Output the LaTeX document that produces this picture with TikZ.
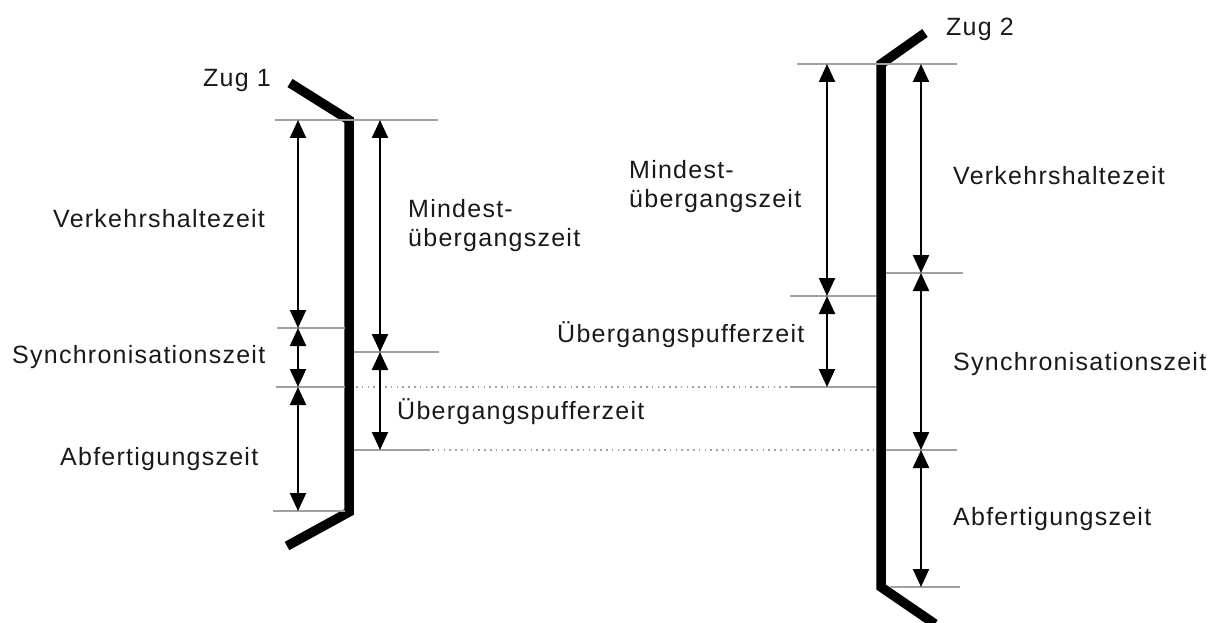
\documentclass[tikz,border=0pt]{standalone}
\usepackage{fontspec}
\setmainfont{Liberation Sans}[LetterSpace=5]
\usetikzlibrary{arrows.meta}
\definecolor{guide}{HTML}{A0A0A0}
\begin{document}
\begin{tikzpicture}[x=1pt,y=-1pt,
  train/.style={line width=9.5pt,line join=miter},
  guideline/.style={draw=guide,line width=1.2pt},
  dotline/.style={draw=guide,line width=1.6pt,dash pattern=on 1.6pt off 4.2pt},
  dim/.style={line width=2.2pt,{Triangle[length=18pt,width=16pt]}-{Triangle[length=18pt,width=16pt]}},
  lbl/.style={anchor=base west,inner sep=0pt,font=\fontsize{25}{32}\selectfont,text=black!90}]
\useasboundingbox (0,0) rectangle (1215,623);
% train 1
\coordinate (t1a) at (290,83);
\coordinate (t1b) at (349,120);
\coordinate (t1c) at (349,512);
\coordinate (t1d) at (287,546);
\draw[train] (t1a) -- (t1b) -- (t1c) -- (t1d);
% train 2
\coordinate (t2a) at (925,33);
\coordinate (t2b) at (881,64);
\coordinate (t2c) at (881,587);
\coordinate (t2d) at (935,624);
\draw[train] (t2a) -- (t2b) -- (t2c) -- (t2d);
% guide lines train 1
\draw[guideline] (275,120) -- (438,120);
\draw[guideline] (277,328) -- (345,328);
\draw[guideline] (354,352) -- (439,352);
\draw[guideline] (276,387) -- (345,387);
\draw[guideline] (354,450) -- (430,450);
\draw[guideline] (273,511) -- (345,511);
% dotted connections
\draw[dotline] (356,387) -- (789,387);
\draw[dotline] (432,450) -- (876,450);
% guide lines train 2
\draw[guideline] (797,64) -- (957,64);
\draw[guideline] (886,273) -- (963,273);
\draw[guideline] (790,296) -- (876,296);
\draw[guideline] (790,387) -- (876,387);
\draw[guideline] (886,450) -- (957,450);
\draw[guideline] (890,587) -- (960,587);
% dimension points train 1
\coordinate (l1) at (298,120);
\coordinate (l2) at (298,328);
\coordinate (l3) at (298,387);
\coordinate (l4) at (298,511);
\coordinate (r1) at (380,120);
\coordinate (r2) at (380,352);
\coordinate (r3) at (380,450);
\draw[dim] (l1) -- (l2);
\draw[dim] (l2) -- (l3);
\draw[dim] (l3) -- (l4);
\draw[dim] (r1) -- (r2);
\draw[dim] (r2) -- (r3);
% dimension points train 2
\coordinate (m1) at (827,64);
\coordinate (m2) at (827,296);
\coordinate (m3) at (827,387);
\coordinate (n1) at (921,64);
\coordinate (n2) at (921,273);
\coordinate (n3) at (921,450);
\coordinate (n4) at (921,587);
\draw[dim] (m1) -- (m2);
\draw[dim] (m2) -- (m3);
\draw[dim] (n1) -- (n2);
\draw[dim] (n2) -- (n3);
\draw[dim] (n3) -- (n4);
% labels
\node[lbl] (z1) at (203,87) {Zug 1};
\node[lbl] (z2) at (946,36) {Zug 2};
\node[lbl] (v1) at (53,227) {Verkehrshaltezeit};
\node[lbl] (s1) at (12,363) {Synchronisationszeit};
\node[lbl] (a1) at (60,465) {Abfertigungszeit};
\node[lbl] (mu1a) at (408,217) {Mindest-};
\node[lbl] (mu1b) at (408,246) {übergangszeit};
\node[lbl] (up1) at (397,419) {Übergangspufferzeit};
\node[lbl] (mu2a) at (629,178) {Mindest-};
\node[lbl] (mu2b) at (629,207) {übergangszeit};
\node[lbl] (up2) at (557,342) {Übergangspufferzeit};
\node[lbl] (v2) at (953,184) {Verkehrshaltezeit};
\node[lbl] (s2) at (953,370) {Synchronisationszeit};
\node[lbl] (a2) at (953,525) {Abfertigungszeit};
\end{tikzpicture}
\end{document}
